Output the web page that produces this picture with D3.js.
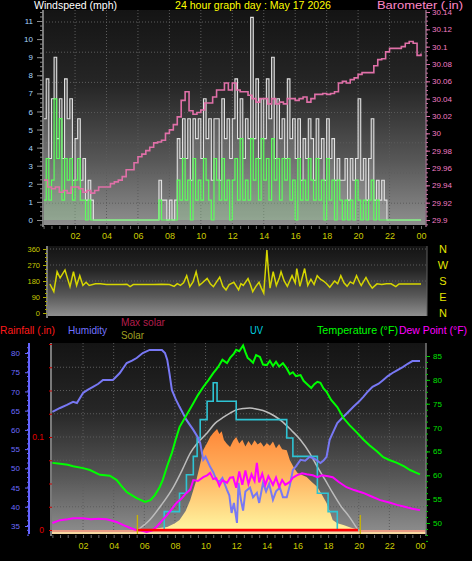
<!DOCTYPE html>
<html>
<head>
<meta charset="utf-8">
<script src="https://cdn.jsdelivr.net/npm/d3@7/dist/d3.min.js"></script>
<style>
html,body{margin:0;padding:0;background:#000;}
svg{display:block;}
</style>
</head>
<body>
<svg id="chart" width="472" height="561"></svg>
<script>
// ================= DATA =================
const xTickHours  = [2,4,6,8,10,12,14,16,18,20,22,24];
const xTickLabels = ["02","04","06","08","10","12","14","16","18","20","22","00"];

// wind speed (mph), one value every 10 minutes from 00:00
const windStepHours = 1/6;
const windGust = [
  5.6,7.8,3.4,6.7,9.0,4.5,  6.7,3.4,7.8,5.6,6.7,2.2,  4.5,5.6,2.2,3.4,1.1,2.2,
  1.1,0,0,0,0,0,  0,0,0,0,0,0,  0,0,0,0,0,0,  0,0,0,0,0,0,
  0,0,2.2,1.1,1.1,0,  1.1,0,1.1,4.5,3.4,5.6,  3.4,5.6,2.2,5.6,4.5,5.6,
  3.4,6.7,4.5,5.6,2.2,5.6,  5.6,2.2,6.7,4.5,5.6,3.4,  5.6,7.8,4.5,6.7,3.4,5.6,
  4.5,11.2,4.5,7.8,3.4,6.7,  4.5,7.8,5.6,9.0,3.4,6.7,  4.5,5.6,3.4,7.8,4.5,5.6,
  3.4,5.6,2.2,4.5,3.4,5.6,  4.5,2.2,5.6,3.4,4.5,2.2,  5.6,3.4,4.5,2.2,3.4,2.2,
  2.2,3.4,1.1,3.4,2.2,3.4,  6.7,2.2,3.4,1.1,3.4,5.6,  1.1,2.2,1.1,2.2,1.1,0,
  0,0,0,0,0,0,  0,0,0,0,0,0
];
const windAvg = [
  1.1,3.4,1.1,2.2,6.7,3.4,  5.6,1.1,3.4,2.2,3.4,1.1,  2.2,3.4,1.1,1.1,0,1.1,
  0,0,0,0,0,0,  0,0,0,0,0,0,  0,0,0,0,0,0,  0,0,0,0,0,0,
  0,0,1.1,0,0,0,  0,0,0,2.2,1.1,3.4,  1.1,2.2,0,3.4,1.1,2.2,
  1.1,3.4,2.2,1.1,0,3.4,  2.2,1.1,3.4,1.1,2.2,0,  2.2,3.4,1.1,4.5,1.1,2.2,
  1.1,4.5,2.2,3.4,1.1,4.5,  2.2,3.4,1.1,4.5,2.2,3.4,  1.1,3.4,2.2,3.4,1.1,2.2,
  0,3.4,1.1,2.2,1.1,3.4,  2.2,1.1,3.4,1.1,2.2,0,  3.4,1.1,2.2,0,2.2,1.1,
  0,1.1,0,1.1,0,2.2,  1.1,0,1.1,0,1.1,2.2,  0,1.1,0,0,0,0,
  0,0,0,0,0,0,  0,0,0,0,0,0
];
const windTicks = [0,1,2,3,4,5,6,7,8,9,10,11];

// barometer (in), one value every 15 minutes from 00:00 to 24:00
const baroStepHours = 0.25;
const baroValues = [
  29.946,29.938,29.936,29.938,  29.932,29.934,29.931,29.938,  29.938,29.936,29.932,29.934,
  29.931,29.934,29.938,29.938,  29.938,29.942,29.944,29.946,  29.950,29.958,29.958,29.966,
  29.973,29.976,29.980,29.984,  29.989,29.990,29.992,30.000,  30.004,30.010,30.019,30.038,
  30.048,30.026,30.022,30.024,  30.027,30.035,30.035,30.042,  30.050,30.050,30.058,30.050,
  30.058,30.050,30.048,30.048,  30.044,30.040,30.036,30.040,  30.040,30.034,30.040,30.034,
  30.036,30.034,30.040,30.040,  30.038,30.040,30.042,30.036,  30.040,30.045,30.045,30.046,
  30.045,30.046,30.048,30.058,  30.060,30.058,30.062,30.064,  30.068,30.070,30.070,30.070,
  30.078,30.085,30.086,30.094,  30.098,30.098,30.098,30.100,  30.104,30.106,30.104,30.090,
  30.092
];
const baroTicks = [29.9,29.92,29.94,29.96,29.98,30,30.02,30.04,30.06,30.08,30.1,30.12,30.14];

// wind direction (degrees)
const dirTimes = [0.4,0.65,0.86,1.05,1.36,1.68,1.9,2.1,2.3,2.5,2.7,2.9,3.3,3.6,4.0,4.5,5.0,5.3,5.5,5.7,6.5,7.0,7.5,8.0,8.3,8.5,8.7,8.9,9.1,9.3,9.5,9.7,9.9,10.1,10.4,10.6,10.8,11.0,11.2,11.4,11.6,11.8,12.1,12.4,12.55,12.7,13.0,13.15,13.3,13.5,13.7,13.85,14.0,14.1,14.2,14.3,14.4,14.6,14.8,15.0,15.1,15.3,15.5,15.8,16.0,16.1,16.3,16.45,16.6,16.8,17.0,17.2,17.4,17.6,17.8,18.0,18.2,18.5,18.7,18.9,19.1,19.3,19.5,19.7,19.9,20.1,20.2,20.5,20.7,20.9,21.2,21.5,21.8,22.1,22.4,22.6,23.0,23.5,24.0];
const dirValues = [163,120,232,197,242,148,232,155,210,155,173,155,165,164,160,160,160,162,148,160,160,160,162,160,150,165,155,170,210,148,175,232,155,170,195,165,148,175,202,150,130,160,173,130,165,155,193,160,120,150,173,140,112,232,354,232,140,232,155,200,232,180,150,210,170,250,150,200,250,155,190,160,210,190,180,165,145,180,165,210,170,150,175,165,210,170,155,200,165,140,164,160,165,164,148,163,163,163,163];
const dirTicks = [0,90,180,270,360];
const compassDegrees = [360,270,180,90,0];
const compassLabels = ["N","W","S","E","N"];

// temperature (°F)
const tempTimes = [0,0.5,1.0,1.35,2.0,2.45,3.1,3.75,4.2,4.5,4.85,5.2,5.5,6.05,6.4,6.7,7.0,7.2,7.5,7.8,8.05,8.3,8.75,9.2,9.5,9.85,10.2,10.5,10.8,11.1,11.4,11.6,11.85,12.0,12.2,12.45,12.6,12.75,12.9,13.1,13.3,13.55,13.75,14.0,14.2,14.4,14.6,14.8,15.05,15.3,15.5,15.7,15.9,16.2,16.4,16.6,16.9,17.1,17.3,17.5,17.7,17.9,18.2,18.6,19.0,19.4,19.9,20.3,20.7,21.2,21.6,22.0,22.5,23.0,23.35,23.7,24.0];
const tempValues = [62.6,62.4,62.2,61.9,61.5,61.1,60.1,59.9,59.0,57.8,56.5,55.8,55.2,54.4,54.8,55.9,57.5,59.0,62.0,64.7,67.5,70.1,72.6,75.1,76.8,78.5,80.0,81.4,82.6,84.2,83.5,84.6,85.5,86.3,86.0,87.2,85.8,84.6,84.2,83.6,85.2,84.8,83.2,83.1,84.0,82.9,83.8,82.8,83.5,82.4,81.2,81.6,80.8,81.0,79.8,79.2,78.3,79.1,79.6,79.4,78.2,77.5,75.8,74.3,72.0,70.5,68.9,67.5,66.3,65.0,63.8,63.2,62.6,61.8,61.1,60.6,60.2];

// dew point (°F)
const dewTimes = [0,0.5,1.0,1.35,2.0,2.5,3.0,3.55,4.2,4.6,5.05,5.4,5.7,6.15,6.5,6.8,7.1,7.5,8.1,8.4,8.75,9.0,9.2,9.5,9.85,10.1,10.3,10.5,10.7,10.9,11.1,11.4,11.6,11.8,12.0,12.2,12.4,12.6,12.8,13.0,13.2,13.35,13.5,13.7,13.9,14.1,14.4,14.6,14.8,15.0,15.2,15.5,15.7,15.95,16.3,16.6,17.0,17.3,17.6,18.0,18.3,18.7,19.2,19.7,20.3,20.8,21.4,22.0,22.5,23.0,23.5,24.0];
const dewValues = [50.0,50.6,50.8,51.0,51.0,50.8,50.9,50.8,50.2,49.6,49.0,48.6,48.5,48.1,48.4,49.2,50.3,51.7,54.2,55.0,56.3,57.0,59.0,58.8,59.6,60.0,60.5,59.2,59.4,57.8,59.0,58.4,59.5,59.6,57.4,60.8,58.0,61.0,58.2,60.2,58.8,62.6,58.5,60.3,58.0,59.8,58.0,59.5,57.6,59.0,58.0,58.6,59.5,60.0,60.4,60.2,60.0,59.6,60.0,59.8,59.6,58.6,57.5,56.9,56.3,55.6,54.8,54.3,53.8,53.4,53.0,52.7];

// humidity (%)
const humTimes = [0,0.5,0.95,1.35,1.6,2.0,2.3,2.65,3.0,3.3,3.95,4.4,4.85,5.2,5.5,5.9,6.35,7.15,7.35,7.5,7.65,7.8,8.05,8.3,8.75,9.2,9.5,9.65,9.85,10.0,10.3,10.5,10.7,10.9,11.1,11.4,11.55,11.7,11.85,12.05,12.15,12.3,12.45,12.6,12.9,13.1,13.35,13.5,13.75,13.95,14.15,14.4,14.6,14.85,15.05,15.3,15.5,15.7,15.9,16.2,16.5,16.8,17.1,17.5,17.7,17.9,18.1,18.35,18.6,19.0,19.3,19.65,20.0,20.3,20.6,20.9,21.3,21.6,21.9,22.2,22.5,22.9,23.2,23.5,24.0];
const humValues = [64.7,65.7,66.5,67.3,67.0,69.6,70.4,71.2,72.0,73.0,73.0,74.8,77.4,78.0,78.7,80.0,80.8,80.8,80.0,78.2,74.5,70.4,68.0,66.0,62.6,60.0,58.0,56.6,52.2,53.0,50.4,49.0,47.0,46.5,47.5,44.4,43.0,38.4,41.0,35.8,46.2,42.0,39.0,44.0,45.0,42.5,43.6,41.0,46.2,44.0,46.0,41.8,44.0,45.0,42.5,42.5,45.5,49.6,50.5,52.2,52.0,53.0,52.5,51.4,52.0,53.0,57.4,59.6,61.8,63.4,64.6,66.0,67.3,68.6,70.0,71.2,72.0,73.0,74.0,74.8,75.5,76.4,77.2,77.9,77.9];

// UV index (stepped)
const uvTimes  = [5.5,7.3,8.3,8.75,9.2,9.45,9.65,10.1,10.5,10.75,12.0,15.3,15.7,17.3,18.0,18.6,20.0];
const uvValues = [0,1,2,3,4,5,6,7,8,7,6,5,4,2,1,0,0];

// solar radiation (W/m2)
const solarTimes  = [5.5,6.0,6.5,7.0,7.5,8.0,8.3,8.7,9.0,9.2,9.4,9.6,9.85,10.1,10.3,10.5,10.75,10.9,11.05,11.2,11.4,11.6,11.8,12.0,12.2,12.4,12.6,12.8,13.0,13.2,13.4,13.6,13.8,14.0,14.2,14.4,14.6,14.8,15.0,15.3,15.5,15.75,16.0,16.3,16.6,16.9,17.3,17.6,17.9,18.1,18.3,18.6,19.0,19.5,20.1];
const solarValues = [0,2,5,10,16,35,53,100,158,210,263,330,421,458,490,511,532,505,520,474,452,437,470,490,455,475,440,468,445,472,450,462,438,458,444,466,430,452,425,420,368,330,300,290,279,255,226,185,142,100,53,35,26,12,0];
const maxSolarTimes  = [5.55,6.35,7.1,7.9,8.5,9.0,9.5,10.1,10.6,11.2,11.6,12.0,12.5,12.9,13.4,14.0,14.5,15.05,15.6,16.2,16.8,17.3,17.8,18.3,18.8,19.4,19.95];
const maxSolarValues = [0,53,130,226,320,405,460,511,560,595,615,632,640,642,635,621,600,568,525,474,405,332,265,195,130,68,0];

// rainfall (in)
const rainTimes  = [5.5,19.95];
const rainValues = [0,0];
const sunTimes = [5.55,20.1];

const humTicks  = [35,40,45,50,55,60,65,70,75,80];
const tempTicks = [50,55,60,65,70,75,80,85];
const rainTicks = [0,0.1];

// ================= DRAWING =================
const FONT = '"Liberation Sans", Arial, sans-serif';
const svg = d3.select("#chart");
svg.append("rect").attr("width",472).attr("height",561).attr("fill","#000");
const defs = svg.append("defs");

const bgGrad = defs.append("linearGradient").attr("id","bg").attr("x1",0).attr("y1",0).attr("x2",0).attr("y2",1);
[[0,"#141414"],[0.35,"#262626"],[0.7,"#575757"],[1,"#8e8e8e"]].forEach(([o,c])=>bgGrad.append("stop").attr("offset",o).attr("stop-color",c));
const solGrad = defs.append("linearGradient").attr("id","solGrad").attr("gradientUnits","userSpaceOnUse")
  .attr("x1",0).attr("y1",425).attr("x2",0).attr("y2",530);
[[0,"#ff8434"],[0.45,"#ffae5c"],[1,"#fff6a0"]].forEach(([o,c])=>solGrad.append("stop").attr("offset",o).attr("stop-color",c));

const panels = {
  top:{x0:43,x1:426,y0:10,y1:225},
  mid:{x0:47,x1:427,y0:246,y1:316},
  bot:{x0:51,x1:426,y0:343,y1:534}
};
Object.entries(panels).forEach(([k,p])=>{
  svg.append("rect").attr("x",p.x0).attr("y",p.y0).attr("width",p.x1-p.x0).attr("height",p.y1-p.y0).attr("fill","url(#bg)");
  defs.append("clipPath").attr("id","clip-"+k).append("rect")
    .attr("x",p.x0).attr("y",p.y0).attr("width",p.x1-p.x0).attr("height",p.y1-p.y0);
});

// scales
const xTop  = d3.scaleLinear().domain([0,24]).range([43.6,421]);
const yWind = d3.scaleLinear().domain([0,11]).range([220,21]);
const yBaro = d3.scaleLinear().domain([29.9,30.14]).range([220,12]);
const yDir  = d3.scaleLinear().domain([0,360]).range([313,249]);
const xBot  = d3.scaleLinear().domain([0,24]).range([52.4,420]);
const yHum  = d3.scaleLinear().domain([35,80]).range([526,353]);
const yTemp = d3.scaleLinear().domain([50,85]).range([523,356]);
const yRain = d3.scaleLinear().domain([0,0.2]).range([530,344]);
const yUV   = d3.scaleLinear().domain([0,10]).range([530,346]);
const ySol  = d3.scaleLinear().domain([0,1000]).range([530,340]);

// grids
const grid = svg.append("g").attr("stroke","#5c5c5c").attr("stroke-width",1).attr("stroke-dasharray","1,2");
xTickHours.slice(0,-1).forEach(h=>{
  grid.append("line").attr("x1",xTop(h)).attr("x2",xTop(h)).attr("y1",panels.top.y0).attr("y2",panels.top.y1);
  grid.append("line").attr("x1",xBot(h)).attr("x2",xBot(h)).attr("y1",panels.bot.y0).attr("y2",panels.bot.y1);
});
d3.range(7).forEach(k=>{
  const y = 22 + k*30.2;
  grid.append("line").attr("x1",panels.top.x0).attr("x2",panels.top.x1).attr("y1",y).attr("y2",y);
});
[90,180,270,360].forEach(d=>grid.append("line").attr("x1",panels.mid.x0).attr("x2",panels.mid.x1).attr("y1",yDir(d)).attr("y2",yDir(d)));
d3.range(1,8).forEach(k=>{
  const y = yRain(k*0.025);
  grid.append("line").attr("x1",panels.bot.x0).attr("x2",panels.bot.x1).attr("y1",y).attr("y2",y);
});

// ---------- top panel marks ----------
const gTop = svg.append("g").attr("clip-path","url(#clip-top)");
const gustData = windGust.concat([windGust[windGust.length-1]]);
const avgData = windAvg.concat([windAvg[windAvg.length-1]]);
gTop.append("path").datum(gustData)
  .attr("d",d3.area().x((d,i)=>xTop(i*windStepHours)).y0(yWind(0)).y1(d=>yWind(d)).curve(d3.curveStepAfter))
  .attr("fill","#d0d0d0").attr("fill-opacity",0.22);
const windLine = d3.line().x((d,i)=>xTop(i*windStepHours)).y(d=>yWind(d)).curve(d3.curveStepAfter);
gTop.append("path").datum(gustData)
  .attr("d",windLine).attr("fill","none").attr("stroke","#e2e2e2").attr("stroke-width",1.1);
gTop.append("path").datum(avgData)
  .attr("d",d3.area().x((d,i)=>xTop(i*windStepHours)).y0(yWind(0)).y1(d=>yWind(d)).curve(d3.curveStepAfter))
  .attr("fill","#5cff5c").attr("fill-opacity",0.12);
gTop.append("path").datum(avgData)
  .attr("d",windLine).attr("fill","none").attr("stroke","#5cff5c").attr("stroke-width",1.2);
const baroLine = d3.line().x((d,i)=>xTop(i*baroStepHours)).y(d=>yBaro(d)).curve(d3.curveStepAfter);
gTop.append("path").datum(baroValues).attr("d",baroLine).attr("fill","none").attr("stroke","#e070a8").attr("stroke-width",1.6);

// ---------- middle panel ----------
const gMid = svg.append("g").attr("clip-path","url(#clip-mid)");
gMid.append("path").datum(dirValues)
  .attr("d",d3.line().x((d,i)=>xTop(dirTimes[i])).y(d=>yDir(d)))
  .attr("fill","none").attr("stroke","#d6d600").attr("stroke-width",1.5);

// ---------- bottom panel ----------
const gBot = svg.append("g").attr("clip-path","url(#clip-bot)");
gBot.append("rect").attr("x",panels.bot.x0).attr("y",530).attr("width",panels.bot.x1-panels.bot.x0).attr("height",2).attr("fill","#e89a84");
gBot.append("rect").attr("x",panels.bot.x0).attr("y",532).attr("width",panels.bot.x1-panels.bot.x0).attr("height",2).attr("fill","#f6d8a2");
gBot.append("path").datum(solarValues)
  .attr("d",d3.area().x((d,i)=>xBot(solarTimes[i])).y0(ySol(0)).y1(d=>ySol(d)))
  .attr("fill","url(#solGrad)");
gBot.append("path").datum(maxSolarValues)
  .attr("d",d3.line().x((d,i)=>xBot(maxSolarTimes[i])).y(d=>ySol(d)).curve(d3.curveMonotoneX))
  .attr("fill","none").attr("stroke","#bdbdbd").attr("stroke-width",1.5);
gBot.append("path").datum(uvValues)
  .attr("d",d3.line().x((d,i)=>xBot(uvTimes[i])).y(d=>yUV(d)).curve(d3.curveStepAfter))
  .attr("fill","none").attr("stroke","#2ec4d4").attr("stroke-width",1.6);
gBot.append("path").datum(humValues)
  .attr("d",d3.line().x((d,i)=>xBot(humTimes[i])).y(d=>yHum(d)))
  .attr("fill","none").attr("stroke","#7878f4").attr("stroke-width",2);
gBot.append("path").datum(dewValues)
  .attr("d",d3.line().x((d,i)=>xBot(dewTimes[i])).y(d=>yTemp(d)))
  .attr("fill","none").attr("stroke","#ff00ff").attr("stroke-width",2);
gBot.append("path").datum(tempValues)
  .attr("d",d3.line().x((d,i)=>xBot(tempTimes[i])).y(d=>yTemp(d)))
  .attr("fill","none").attr("stroke","#00ff00").attr("stroke-width",2);
gBot.append("path").datum(rainValues)
  .attr("d",d3.line().x((d,i)=>xBot(rainTimes[i])).y(d=>yRain(d)))
  .attr("fill","none").attr("stroke","#ff0000").attr("stroke-width",2.5);
sunTimes.forEach(t=>gBot.append("line").attr("x1",xBot(t)).attr("x2",xBot(t)).attr("y1",515).attr("y2",534)
  .attr("stroke","#c8b400").attr("stroke-width",1.3));

// ---------- frames ----------
function vline(x,y1,y2,c,w){svg.append("line").attr("x1",x).attr("x2",x).attr("y1",y1).attr("y2",y2).attr("stroke",c).attr("stroke-width",w);}
vline(43,10,227,"#7a7a7a",2);
vline(426,10,227,"#8a6a80",1.5);
vline(47,246,318,"#7a7a7a",2);
vline(427,246,316,"#606060",1);
vline(51,343,536,"#7a7a7a",2);
vline(426,343,536,"#7a7a7a",1.5);
vline(29,343,534,"#6464ff",2);

// ---------- axes ----------
function styleAxis(g, tickColor, textColor, size){
  g.select(".domain").remove();
  g.attr("font-family",FONT).attr("font-size",size);
  g.selectAll("line").attr("stroke",tickColor);
  g.selectAll("text").attr("fill",textColor);
}
styleAxis(svg.append("g").attr("transform","translate(43,0)")
  .call(d3.axisLeft(yWind).tickValues(windTicks).tickSize(6).tickPadding(4).tickFormat(d3.format("d"))),"#8a8a8a","#a8d8ff",8);
styleAxis(svg.append("g").attr("transform","translate(43,0)")
  .call(d3.axisLeft(yWind).tickValues(d3.range(-1,47).map(k=>k*0.25)).tickSize(3).tickFormat("")),"#8a8a8a","#a8d8ff",8);
styleAxis(svg.append("g").attr("transform","translate(426,0)")
  .call(d3.axisRight(yBaro).tickValues(baroTicks).tickSize(4).tickPadding(2).tickFormat(d=>String(+d.toFixed(2)))),"#e070a8","#f07cc4",8);
styleAxis(svg.append("g").attr("transform","translate(426,0)")
  .call(d3.axisRight(yBaro).tickValues(d3.range(-1,50).map(k=>29.9+k*0.005)).tickSize(2).tickFormat("")),"#c8709c","#f07cc4",8);
styleAxis(svg.append("g").attr("transform","translate(47,0)")
  .call(d3.axisLeft(yDir).tickValues(dirTicks).tickSize(4).tickPadding(3)),"#a8a800","#c8c800",7.5);
styleAxis(svg.append("g").attr("transform","translate(47,0)")
  .call(d3.axisLeft(yDir).tickValues(d3.range(0,17).map(k=>k*22.5)).tickSize(2).tickFormat("")),"#a8a800","#c8c800",7.5);
compassDegrees.forEach((d,i)=>svg.append("text").attr("x",443).attr("y",yDir(d)).attr("dy","0.35em")
  .attr("text-anchor","middle").attr("font-family",FONT).attr("font-size",11).attr("fill","#e4e400").text(compassLabels[i]));
styleAxis(svg.append("g").attr("transform","translate(29,0)")
  .call(d3.axisLeft(yHum).tickValues(humTicks).tickSize(4).tickPadding(5)),"#6464ff","#6c6cff",8);
styleAxis(svg.append("g").attr("transform","translate(29,0)")
  .call(d3.axisLeft(yHum).tickValues(d3.range(-1,39).map(k=>34+k*1.25)).tickSize(2).tickFormat("")),"#6464ff","#6c6cff",8);
styleAxis(svg.append("g").attr("transform","translate(52,0)")
  .call(d3.axisLeft(yRain).tickValues(rainTicks).tickSize(3).tickPadding(5).tickFormat(d=>String(d))),"#d00000","#e00000",8.5);
styleAxis(svg.append("g").attr("transform","translate(52,0)")
  .call(d3.axisLeft(yRain).tickValues(d3.range(0,9).map(k=>k*0.025)).tickSize(3).tickFormat("")),"#d00000","#e00000",8.5);
styleAxis(svg.append("g").attr("transform","translate(426,0)")
  .call(d3.axisRight(yTemp).tickValues(tempTicks).tickSize(4).tickPadding(3)),"#00c800","#00e000",8);
styleAxis(svg.append("g").attr("transform","translate(426,0)")
  .call(d3.axisRight(yTemp).tickValues(d3.range(-2,30).map(k=>48.75+k*1.25)).tickSize(2).tickFormat("")),"#00c800","#00e000",8);

styleAxis(svg.append("g").attr("transform","translate(0,226)")
  .call(d3.axisBottom(xTop).tickValues(d3.range(0,49).map(k=>k*0.5)).tickSize(3).tickFormat("")),"#6a6a6a","#ccc",9);
styleAxis(svg.append("g").attr("transform","translate(0,230)")
  .call(d3.axisBottom(xTop).tickValues(xTickHours).tickSize(0).tickPadding(3).tickFormat((d,i)=>xTickLabels[i])),"#000","#cccc00",9);
styleAxis(svg.append("g").attr("transform","translate(0,535)")
  .call(d3.axisBottom(xBot).tickValues(d3.range(0,49).map(k=>k*0.5)).tickSize(3).tickFormat("")),"#6a6a6a","#ccc",9);
styleAxis(svg.append("g").attr("transform","translate(0,540)")
  .call(d3.axisBottom(xBot).tickValues(xTickHours).tickSize(0).tickPadding(3).tickFormat((d,i)=>xTickLabels[i])),"#000","#cccc00",9);

// ---------- titles & legend ----------
function label(txt,x,y,color,size,len){
  const t = svg.append("text").attr("x",x).attr("y",y).attr("fill",color)
    .attr("font-family",FONT).attr("font-size",size).text(txt);
  if(len) t.attr("textLength",len).attr("lengthAdjust","spacingAndGlyphs");
  return t;
}
label("Windspeed (mph)",34,8.5,"#ffffff",10,83);
label("24 hour graph day : May 17 2026",175,8.5,"#ffff00",10,156);
label("Barometer (.in)",377,8.5,"#ff88c8",10,86);
label("Rainfall (.in)",0,334,"#ff1a1a",10.5,55);
label("Humidity",68,334,"#7272ff",10.5,39);
label("Max solar",121,326,"#b41e4c",10.5,44);
label("Solar",121,338.5,"#a0a020",10.5,23);
label("UV",250,334,"#00d4e4",10.5,13);
label("Temperature (°F)",317,334,"#00ff00",10.5,81);
label("Dew Point (°F)",399,334,"#ff00ff",10.5,68);
</script>
</body>
</html>
